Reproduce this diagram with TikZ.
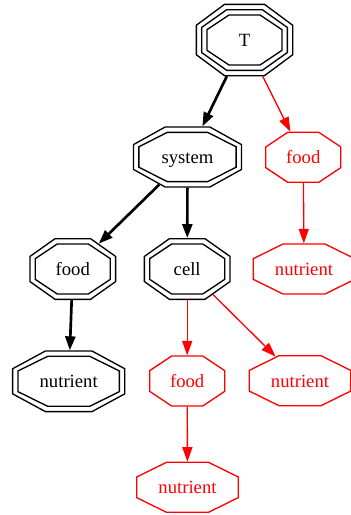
\documentclass[tikz,border=0pt]{standalone}
\usepackage{fontspec}
\setmainfont{Liberation Serif}
\usetikzlibrary{shapes.geometric,arrows.meta}

\tikzset{
  % stretched regular octagon: flat-to-flat width and height
  octa/.style 2 args={regular polygon, regular polygon sides=8, draw,
    inner sep=0pt, outer sep=0.6pt, line width=1.33pt,
    minimum size={#2/0.92388*1pt}, xscale={#1/#2}, transform shape},
  lbl/.style={inner sep=0pt, font=\fontsize{18.67}{22}\selectfont,
    text height=13pt, text depth=0pt},
  blk/.style={draw=black, text=black},
  hot/.style={draw=red, text=red},
  strong/.style={draw=black, line width=2.67pt, -{Triangle[length=14pt,width=10pt]}},
  weak/.style={draw=red, line width=1.33pt, -{Triangle[length=14.5pt,width=10pt]}},
}

\begin{document}
\begin{tikzpicture}[x=1pt, y=-1pt]
\useasboundingbox (0,0) rectangle (351,515);

% triple octagon
\node[octa={96.33}{71.33}, blk] (T) at (244.5,40) {};
\node[octa={85.67}{60.67}, blk] (T-ring2) at (T.center) {};
\node[octa={75}{50}, blk] (T-ring3) at (T.center) {};
\node[lbl, text=black] (T-text) at (T.center) {T};

% double octagons
\node[octa={108}{60}, blk] (system) at (187.5,157) {};
\node[octa={97.3}{49.3}, blk] (system-ring2) at (system.center) {};
\node[lbl, text=black] (system-text) at (system.center) {system};

\node[octa={85.67}{60.67}, blk] (food) at (72.8,269) {};
\node[octa={75}{50}, blk] (food-ring2) at (food.center) {};
\node[lbl, text=black] (food-text) at (food.center) {food};

\node[octa={85.67}{60.67}, blk] (cell) at (187.2,269) {};
\node[octa={75}{50}, blk] (cell-ring2) at (cell.center) {};
\node[lbl, text=black] (cell-text) at (cell.center) {cell};

\node[octa={112.1}{60.7}, blk] (nutrient) at (68.7,381.3) {};
\node[octa={101.4}{50}, blk] (nutrient-ring2) at (nutrient.center) {};
\node[lbl, text=black] (nutrient-text) at (nutrient.center) {nutrient};

% single red octagons
\node[octa={75}{50}, hot] (foodA) at (303.3,157.3) {};
\node[lbl, text=red] (foodA-text) at (foodA.center) {food};
\node[octa={101.4}{50}, hot] (nutrientA) at (304,269) {};
\node[lbl, text=red] (nutrientA-text) at (nutrientA.center) {nutrient};
\node[octa={75}{50}, hot] (foodB) at (187.2,381) {};
\node[lbl, text=red] (foodB-text) at (foodB.center) {food};
\node[octa={101.4}{50}, hot] (nutrientB) at (300,380.7) {};
\node[lbl, text=red] (nutrientB-text) at (nutrientB.center) {nutrient};
\node[octa={101.4}{50}, hot] (nutrientC) at (187.5,487.3) {};
\node[lbl, text=red] (nutrientC-text) at (nutrientC.center) {nutrient};

% edges
\draw[strong] (T) -- (system);
\draw[weak] (T) -- (foodA);
\draw[weak] (foodA) -- (nutrientA);
\draw[strong] (system) -- (food);
\draw[strong] (system) -- (cell);
\draw[strong] (food) -- (nutrient);
\draw[weak] (cell) -- (foodB);
\draw[weak] (cell) -- (nutrientB);
\draw[weak] (foodB) -- (nutrientC);
\end{tikzpicture}
\end{document}
